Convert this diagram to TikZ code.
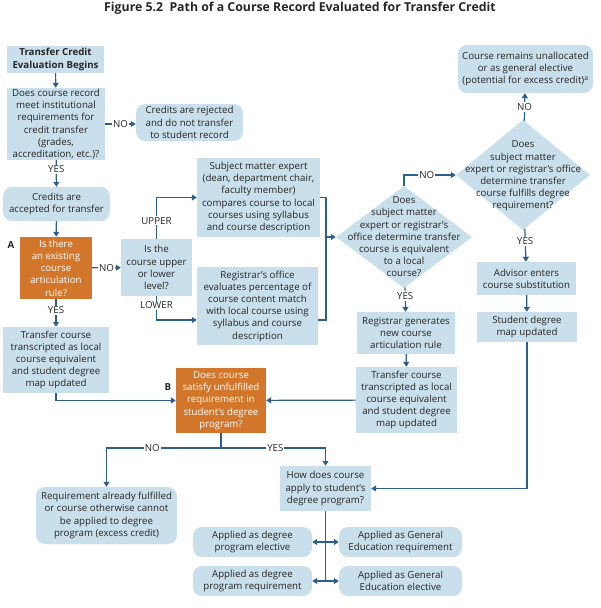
\documentclass[tikz,border=0pt]{standalone}
\usepackage{fontspec}
\setmainfont{Open Sans}
\usetikzlibrary{shapes.geometric}
\usetikzlibrary{arrows.meta}
\definecolor{boxblue}{HTML}{C9DFEB}
\definecolor{qorange}{HTML}{D2762C}
\definecolor{lineblue}{HTML}{2C5F8C}
\definecolor{textgray}{HTML}{262626}
\newcommand{\bodyfont}{\fontsize{9.7pt}{12.2pt}\selectfont}

\begin{document}
\begin{tikzpicture}[x=1pt,y=-1pt,
  >={Triangle[length=5pt,width=6pt]},
  box/.style={fill=boxblue,text=textgray,inner sep=0pt,align=center,font=\bodyfont},
  rbox/.style={box,rounded corners=9pt},
  qbox/.style={box,fill=qorange,text=white},
  diam/.style={diamond,fill=boxblue,inner sep=0pt},
  lbl/.style={fill=white,inner sep=1pt,text=textgray,font=\bodyfont},
  flow/.style={draw=lineblue,line width=1.2pt}]
\useasboundingbox (0,0) rectangle (600,608);
\node[text=textgray,font=\bfseries\fontsize{12.3pt}{14pt}\selectfont] (title) at (300,8)
  {Figure 5.2\ \ Path of a Course Record Evaluated for Transfer Credit};
% left column
\node[box,minimum width=97pt,minimum height=27pt,font=\bodyfont\bfseries] (start) at (55.5,59.5)
  {Transfer Credit\\Evaluation Begins};
\node[box,minimum width=98pt,minimum height=72pt] (meet) at (56,124)
  {Does course record\\meet institutional\\requirements for\\credit transfer\\(grades,\\accreditation, etc.)?};
\node[rbox,minimum width=107pt,minimum height=37pt] (reject) at (189.5,122.5)
  {Credits are rejected\\and do not transfer\\to student record};
\node[rbox,minimum width=107pt,minimum height=34pt] (accept) at (56.5,204)
  {Credits are\\accepted for transfer};
\node[qbox,minimum width=72pt,minimum height=62pt] (rule) at (56,268)
  {Is there\\an existing\\course\\articulation\\rule?};
\node[box,minimum width=106pt,minimum height=66pt] (local) at (56,360)
  {Transfer course\\transcripted as local\\course equivalent\\and student degree\\map updated};
\node[font=\bodyfont\bfseries,text=textgray] (markA) at (11,245) {A};
% level split
\node[box,minimum width=71pt,minimum height=57pt] (level) at (156.5,267.5)
  {Is the\\course upper\\or lower\\level?};
\node[box,minimum width=123pt,minimum height=79pt] (expert) at (258.5,197.5)
  {Subject matter expert\\(dean, department chair,\\faculty member)\\compares course to local\\courses using syllabus\\and course description};
\node[box,minimum width=121pt,minimum height=78pt] (office) at (257.5,306)
  {Registrar’s office\\evaluates percentage of\\course content match\\with local course using\\syllabus and course\\description};
\coordinate (merge) at (326,237);
% decisions
\node[diam,minimum width=136pt,minimum height=102pt] (equiv) at (404,237) {};
\node[box,fill=none] (equivtxt) at (404,237)
  {Does\\subject matter\\expert or registrar’s\\office determine transfer\\course is equivalent\\to a local\\course?};
\node[diam,minimum width=134pt,minimum height=110pt] (fulfil) at (523,175) {};
\node[box,fill=none] (fulfiltxt) at (523,176)
  {Does\\subject matter\\expert or registrar’s office\\determine transfer\\course fulfills degree\\requirement?};
\node[rbox,minimum width=135pt,minimum height=48pt] (unalloc) at (525.5,69)
  {Course remains unallocated\\or as general elective\\(potential for excess credit)\textsuperscript{a}};
\node[box,minimum width=99pt,minimum height=33pt] (advisor) at (526.5,278.5)
  {Advisor enters\\course substitution};
\node[box,minimum width=100pt,minimum height=30pt] (degmap) at (527,327)
  {Student degree\\map updated};
\node[box,minimum width=98pt,minimum height=42pt] (newrule) at (406,333)
  {Registrar generates\\new course\\articulation rule};
\node[box,minimum width=101pt,minimum height=66pt] (newlocal) at (406.5,400)
  {Transfer course\\transcripted as local\\course equivalent\\and student degree\\map updated};
% requirement check
\node[qbox,minimum width=90pt,minimum height=65pt] (satisfy) at (221,400.5)
  {Does course\\satisfy unfulfilled\\requirement in\\student’s degree\\program?};
\node[font=\bodyfont\bfseries,text=textgray] (markB) at (168,387) {B};
\coordinate (split) at (221,448);
\node[rbox,minimum width=141pt,minimum height=57pt] (excess) at (106.5,515.5)
  {Requirement already fulfilled\\or course otherwise cannot\\be applied to degree\\program (excess credit)};
\node[box,minimum width=91pt,minimum height=45pt] (apply) at (325.5,488.5)
  {How does course\\apply to student’s\\degree program?};
\node[rbox,minimum width=119pt,minimum height=30pt] (progel) at (252.5,542)
  {Applied as degree\\program elective};
\node[rbox,minimum width=119pt,minimum height=30pt] (progreq) at (252.5,581)
  {Applied as degree\\program requirement};
\node[rbox,minimum width=123pt,minimum height=30pt] (genreq) at (400.5,542)
  {Applied as General\\Education requirement};
\node[rbox,minimum width=123pt,minimum height=30pt] (genel) at (400.5,581)
  {Applied as General\\Education elective};
% connectors
\draw[flow,->] (start) -- (meet);
\draw[flow,->] (meet.east) -- node[lbl] {NO} (meet.east -| reject.west);
\draw[flow,->] (meet) -- node[lbl,pos=0.35] {YES} (accept);
\draw[flow,->] (accept) -- (rule);
\draw[flow,->] (rule) -- node[lbl] {NO} (level);
\draw[flow,->] (rule) -- node[lbl,pos=0.4] {YES} (local);
\draw[flow,->] (level.north) |- node[lbl,pos=0.22] {UPPER} (expert.west);
\draw[flow,->] (level.south) |- node[lbl,pos=0.19] {LOWER} ([yshift=-14pt]office.west);
\draw[flow] (expert.east) -| (merge);
\draw[flow] ([yshift=-14pt]office.east) -| (merge);
\draw[flow,->] (merge) -- (equiv.west);
\draw[flow,->] (equiv.north) |- node[lbl,pos=0.72] {NO} (fulfil.west);
\draw[flow,->] (equiv) -- node[lbl,pos=0.35] {YES} (newrule);
\draw[flow,->] (fulfil) -- node[lbl] {NO} (unalloc);
\draw[flow,->] (fulfil) -- node[lbl,pos=0.38] {YES} (advisor);
\draw[flow,->] (advisor) -- (degmap);
\draw[flow,->] (degmap.south) |- (apply.east);
\draw[flow,->] (newrule) -- (newlocal);
\draw[flow,->] (newlocal) -- (satisfy);
\draw[flow,->] (local.south) |- (satisfy.west);
\draw[flow] (satisfy) -- (split);
\draw[flow,->] (split) -| node[lbl,pos=0.3] {NO} (excess.north);
\draw[flow,->] (split) -| node[lbl,pos=0.26] {YES} (apply.north);
\draw[flow] (apply.south) -- (apply.south |- progreq.east);
\draw[flow,->] (apply.south |- progel.east) -- (progel.east);
\draw[flow,->] (apply.south |- genreq.west) -- (genreq.west);
\draw[flow,->] (apply.south |- progreq.east) -- (progreq.east);
\draw[flow,->] (apply.south |- genel.west) -- (genel.west);
\end{tikzpicture}
\end{document}
